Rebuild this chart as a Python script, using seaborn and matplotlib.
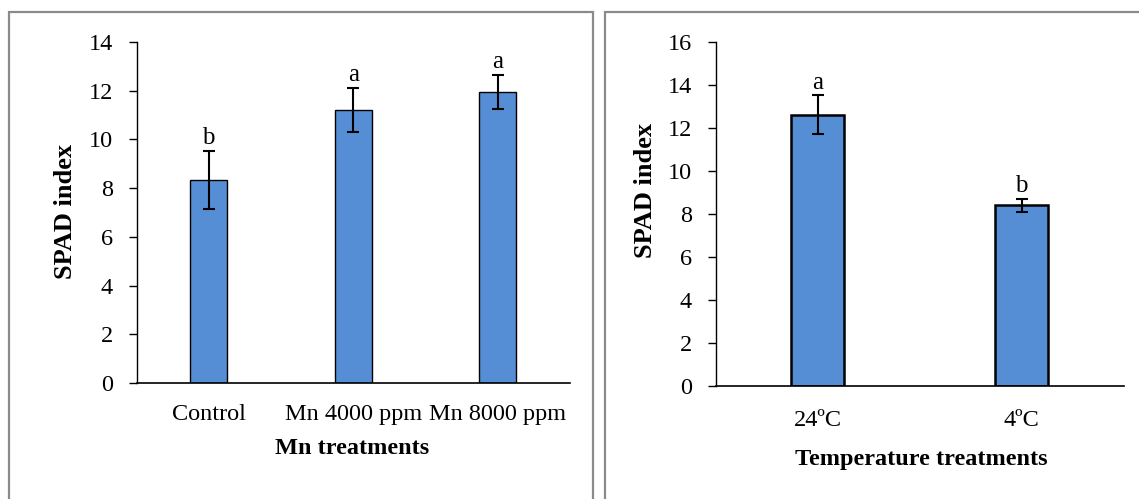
import matplotlib
matplotlib.use("Agg")
import matplotlib.pyplot as plt
import seaborn as sns
import pandas as pd
from matplotlib.patches import Rectangle

# Data
mn_labels = ["Control", "Mn 4000 ppm", "Mn 8000 ppm"]
mn_spad = [8.33, 11.2, 11.95]
mn_err = [1.2, 0.9, 0.7]
mn_letters = ["b", "a", "a"]

temp_labels = ["24ºC", "4ºC"]
temp_spad = [12.6, 8.4]
temp_err = [0.9, 0.3]
temp_letters = ["a", "b"]

sns.set_style("white")
plt.rcParams["font.family"] = ["Liberation Serif", "DejaVu Serif"]
plt.rcParams["text.color"] = "black"
plt.rcParams["axes.labelcolor"] = "black"
plt.rcParams["xtick.color"] = "black"
plt.rcParams["ytick.color"] = "black"

bar_color = "#558ED5"
W, H = 1139, 499

fig = plt.figure(figsize=(W / 100, H / 100), dpi=100)

# gray frames around the two panels
fig.patches.append(Rectangle((9 / W, -0.1), 584.5 / W, 1.1 - 12 / H,
                             transform=fig.transFigure, fill=False,
                             edgecolor="#8a8a8a", linewidth=1.6))
fig.patches.append(Rectangle((604.5 / W, -0.1), 0.6, 1.1 - 12 / H,
                             transform=fig.transFigure, fill=False,
                             edgecolor="#8a8a8a", linewidth=1.6))

ax1 = fig.add_axes([136.5 / W, 1 - 383 / H, 433.5 / W, 341 / H])
ax2 = fig.add_axes([715.5 / W, 1 - 386 / H, 408 / W, 344.3 / H])


def draw_panel(ax, labels, values, errs, letters, ymax, xlabel,
               edge_lw, xpad, ylab_xy, xlab_xy):
    df = pd.DataFrame({"treatment": labels, "spad": values})
    sns.barplot(data=df, x="treatment", y="spad", ax=ax, color=bar_color,
                width=0.255, edgecolor="black", linewidth=edge_lw, saturation=1)
    ax.errorbar(range(len(values)), values, yerr=errs, fmt="none",
                ecolor="black", elinewidth=1.5, capsize=4.2, capthick=1.5)
    for i, (v, e, t) in enumerate(zip(values, errs, letters)):
        ax.annotate(t, (i, v + e), xytext=(0, 5), textcoords="offset points",
                    ha="center", va="baseline", fontsize=18)
    ax.set_xlim(-0.5, len(values) - 0.5)
    ax.set_ylim(0, ymax)
    ax.set_yticks(range(0, ymax + 1, 2))
    ax.tick_params(axis="y", direction="out", length=6, width=1,
                   labelsize=17.5, left=True, pad=11)
    ax.tick_params(axis="x", length=0, labelsize=17.5, pad=xpad)
    for s in ["top", "right"]:
        ax.spines[s].set_visible(False)
    ax.spines["left"].set_color("black")
    ax.spines["bottom"].set_color("black")
    ax.spines["left"].set_linewidth(1)
    ax.spines["bottom"].set_linewidth(1.2)
    ax.set_ylabel("SPAD index", fontsize=19, fontweight="bold", va="center")
    ax.yaxis.set_label_coords(ylab_xy[0] / W, 1 - ylab_xy[1] / H,
                              transform=fig.transFigure)
    ax.set_xlabel(xlabel, fontsize=17.5, fontweight="bold", va="center")
    ax.xaxis.set_label_coords(xlab_xy[0] / W, 1 - xlab_xy[1] / H,
                              transform=fig.transFigure)


draw_panel(ax1, mn_labels, mn_spad, mn_err, mn_letters, 14, "Mn treatments",
           1.0, 15, (66, 211), (352, 449))
draw_panel(ax2, temp_labels, temp_spad, temp_err, temp_letters, 16,
           "Temperature treatments", 1.8, 17, (645, 190), (921, 459))

fig.savefig("out.png", dpi=100)
